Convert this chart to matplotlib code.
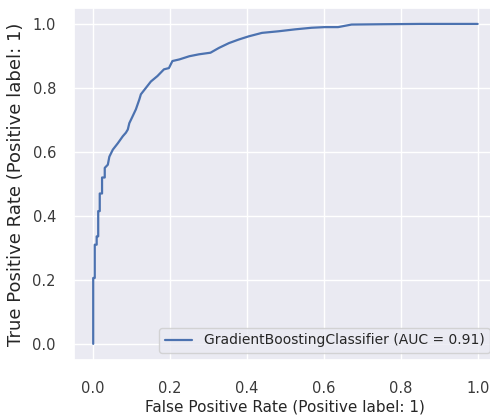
import matplotlib
matplotlib.use("Agg")
import matplotlib.pyplot as plt
import seaborn as sns

# ROC curve points
fpr = [0.0, 0.0, 0.004, 0.004, 0.009, 0.009, 0.013, 0.013, 0.017, 0.017,
       0.023, 0.023, 0.030, 0.030, 0.038, 0.042, 0.051, 0.064, 0.077, 0.085,
       0.090, 0.094, 0.102, 0.111, 0.120, 0.124, 0.137, 0.150, 0.167, 0.184,
       0.197, 0.206, 0.224, 0.250, 0.275, 0.305, 0.327, 0.353, 0.378, 0.404,
       0.439, 0.482, 0.525, 0.568, 0.602, 0.637, 0.672, 0.75, 0.85, 1.0]
tpr = [0.0, 0.206, 0.206, 0.31, 0.31, 0.336, 0.336, 0.415, 0.415, 0.47,
       0.47, 0.52, 0.52, 0.55, 0.56, 0.585, 0.607, 0.627, 0.649, 0.66,
       0.67, 0.69, 0.71, 0.733, 0.764, 0.78, 0.80, 0.82, 0.837, 0.858,
       0.862, 0.884, 0.889, 0.899, 0.905, 0.91, 0.925, 0.94, 0.951, 0.961,
       0.972, 0.977, 0.983, 0.988, 0.99, 0.99, 0.998, 0.999, 1.0, 1.0]
roc_auc = 0.91
name = "GradientBoostingClassifier"

sns.set_theme(style="darkgrid")
plt.rcParams['font.family'] = ['DejaVu Sans']

fig = plt.figure(figsize=(4.9, 4.17), dpi=100)
ax = fig.add_axes([0.151, 0.137, 0.863, 0.844])

ax.plot(fpr, tpr, color="#4C72B0", lw=1.6,
        label=f"{name} (AUC = {roc_auc:.2f})")
ax.set_xlabel("False Positive Rate (Positive label: 1)", fontsize=11, labelpad=3)
ax.set_ylabel("True Positive Rate (Positive label: 1)", fontsize=13, labelpad=5)
ax.tick_params(axis="x", labelsize=10.5, pad=9, colors="#3a3a3a")
ax.tick_params(axis="y", labelsize=10.5, pad=7, colors="#3a3a3a")
ax.legend(loc="lower right", fontsize=10)

fig.savefig("out.png", dpi=100)
